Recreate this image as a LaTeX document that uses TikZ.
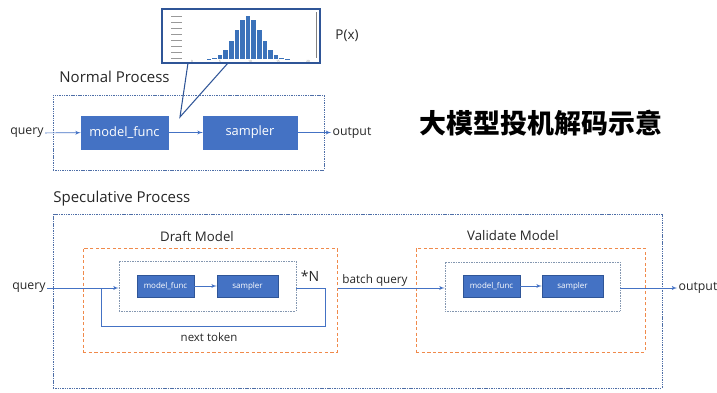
\documentclass[tikz,border=0pt]{standalone}
\usepackage{fontspec}
\setmainfont{Open Sans}
\newfontfamily\cjk{Noto Sans CJK SC}
\usetikzlibrary{shapes,arrows,positioning}
\definecolor{boxblue}{HTML}{4472C4}
\definecolor{edgeblue}{HTML}{2F5597}
\definecolor{dashorange}{HTML}{F08A4B}
\definecolor{loopgrey}{HTML}{8497B0}
\definecolor{barblue}{HTML}{3B72BA}
\tikzstyle{bigbox} = [draw=boxblue, fill=boxblue, text=white, inner sep=0pt,
    minimum width=2.61cm, minimum height=0.99cm, font=\fontsize{11}{11}\selectfont]
\tikzstyle{smallbox} = [draw=edgeblue, fill=boxblue, text=white, inner sep=0pt,
    minimum width=1.71cm, minimum height=0.66cm, font=\fontsize{6.8}{7}\selectfont]
\tikzstyle{procframe} = [draw=edgeblue!85, dash pattern=on 1.2pt off 0.8pt,
    line width=0.6pt, inner sep=0pt]
\tikzstyle{modelframe} = [draw=dashorange, dash pattern=on 2.8pt off 2pt,
    line width=0.8pt, inner sep=0pt]
\tikzstyle{loopframe} = [draw=loopgrey, dash pattern=on 0.8pt off 0.6pt,
    line width=0.5pt, inner sep=0pt]
\tikzstyle{flow} = [-latex', boxblue, line width=0.6pt]
\tikzstyle{txt} = [text=black!85, inner sep=1pt, font=\fontsize{10.5}{11}\selectfont]

\begin{document}
\begin{tikzpicture}[x=0.03cm, y=-0.03cm]
  \useasboundingbox (0,0) rectangle (717,393);

  \coordinate (tip) at (180,117);
  \draw [edgeblue, line width=0.9pt] (188,63) -- (tip) -- (228,63);
  \node [draw=edgeblue, line width=0.9pt, fill=white, minimum width=4.74cm,
    minimum height=1.62cm] (hist) at (241,36) {};
  \foreach \k/\h in {3/0.5,4/1.2,5/3.6,6/9,7/18,8/29,9/39,10/43,11/39,12/29,
      13/18,14/9,15/3.6,16/1.2,17/0.5}
    \fill [barblue] ({248+5.6*(\k-10)-2.3},59) rectangle ++(4.6,-\h);
  \foreach \i in {0,...,7}
    \draw [black!40, line width=0.5pt] (171,{16+\i*6.1}) -- ++(11,0);
  \foreach \v/\p in {0/192,5/220,10/250,15/278,20/308}
    \node [text=black!50, inner sep=0pt, font=\fontsize{2.5}{3}\selectfont]
      (xl\v) at (\p,61.5) {\v};
  \draw [black!50, line width=0.5pt] (316,12) -- (316,58);
  \node [txt, font=\fontsize{11.5}{12}\selectfont] (px) at (347,36) {P(x)};

  \node [txt, anchor=west, font=\fontsize{12.8}{13}\selectfont] (normal) at (58,77)
  {Normal Process};
  \node [procframe, minimum width=8.13cm, minimum height=2.25cm] (nframe)
    at (188.5,132.5) {};
  \node [bigbox] (mf1) at (124.5,132.5) {model\_func};
  \node [bigbox, right of=mf1, node distance=3.765cm, minimum width=2.82cm]
    (sp1) {sampler};
  \node [txt] (q1) at (27,133) {query};
  \node [txt] (o1) at (352,132.5) {output};
  \draw [flow] (q1) -- (mf1);
  \draw [flow] (mf1) -- (sp1);
  \draw [flow] (sp1) -- (o1);

  \node [anchor=center, font=\cjk\bfseries\fontsize{23}{23}\selectfont] (title)
    at (541,123) {大模型投机解码示意};

  \node [txt, anchor=west, font=\fontsize{12.8}{13}\selectfont] (spec) at (52,199)
  {Speculative Process};
  \node [procframe, minimum width=18.27cm, minimum height=5.22cm] (sframe)
    at (357.5,301) {};

  \node [modelframe, minimum width=7.62cm, minimum height=3.12cm] (draft)
    at (210,300) {};
  \node [txt, font=\fontsize{11.3}{12}\selectfont] (dtitle) at (197,236) {Draft Model};
  \node [loopframe, minimum width=5.31cm, minimum height=1.5cm] (dloop)
    at (207.5,286) {};
  \node [smallbox] (mf2) at (165.5,286) {model\_func};
  \node [smallbox, right of=mf2, node distance=2.46cm, minimum width=1.83cm]
    (sp2) {sampler};
  \draw [flow] (mf2) -- (sp2);
  \node [txt] (q2) at (29,288) {query};
  \draw [flow] (q2.east) -- (q2.east -| dloop.west);
  \coordinate (turn) at (325,326);
  \coordinate (join) at (101,288);
  \draw [boxblue, line width=0.6pt] (dloop.east |- join) -| (turn) -| (join);
  \node [txt, font=\fontsize{12}{12}\selectfont] (times) at (310,276) {*N};
  \node [txt, font=\fontsize{9.8}{10}\selectfont] (next) at (209,337) {next token};

  \coordinate (bq) at (338,288);
  \node [txt, font=\fontsize{10}{10}\selectfont] (bqt) at (375,280) {batch query};

  \node [modelframe, minimum width=6.87cm, minimum height=3.12cm] (valid)
    at (530.5,300) {};
  \node [txt, font=\fontsize{11.3}{12}\selectfont] (vtitle) at (513,236)
  {Validate Model};
  \node [loopframe, minimum width=5.25cm, minimum height=1.47cm] (vloop)
    at (532.5,286.5) {};
  \node [smallbox] (mf3) at (491.5,286) {model\_func};
  \node [smallbox, right of=mf3, node distance=2.43cm, minimum width=1.83cm]
    (sp3) {sampler};
  \draw [flow] (mf3) -- (sp3);
  \draw [flow] (bq) -- (bq -| vloop.west);
  \node [txt] (o2) at (698,288) {output};
  \draw [flow] (vloop.east |- o2) -- (o2);
\end{tikzpicture}
\end{document}
